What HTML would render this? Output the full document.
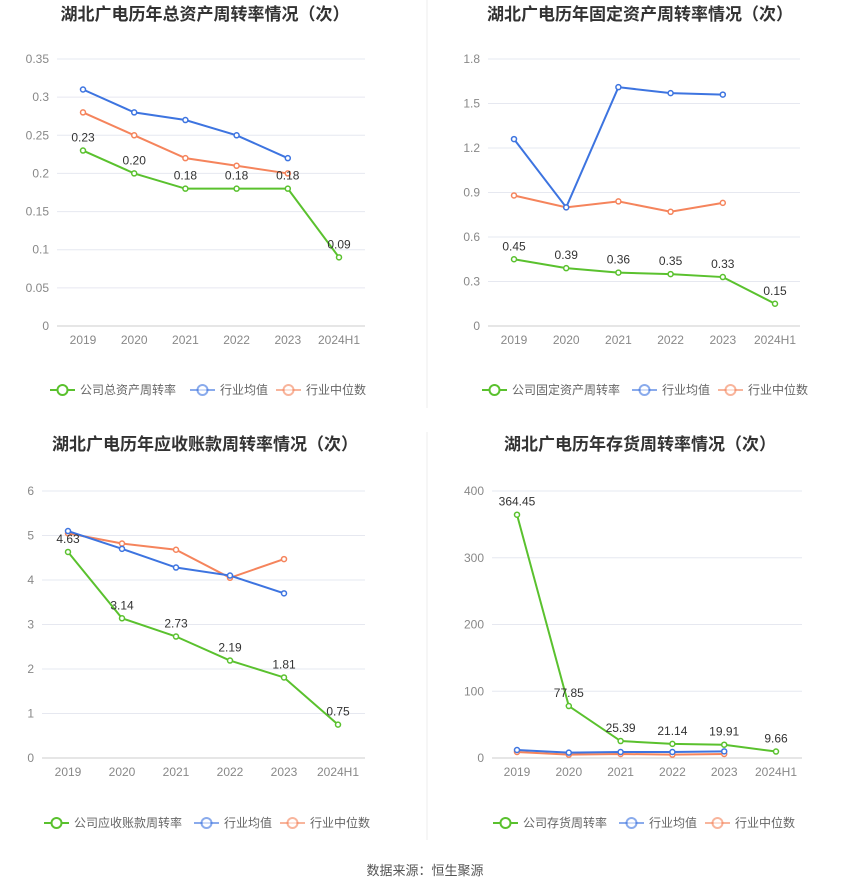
<!DOCTYPE html>
<html><head><meta charset="utf-8"><style>
body{margin:0;background:#fff;}
svg{display:block;font-family:"Liberation Sans","Noto Sans CJK SC",sans-serif;}
</style></head><body>
<svg id="s" width="850" height="891" viewBox="0 0 850 891" xmlns="http://www.w3.org/2000/svg">
<line x1="427" y1="0" x2="427" y2="408" stroke="#eee"/>
<line x1="427" y1="432" x2="427" y2="840" stroke="#eee"/>
<text x="425" y="875" font-size="13" fill="#555" text-anchor="middle">数据来源：恒生聚源</text>
</svg>
<script>
const cats = ["2019","2020","2021","2022","2023","2024H1"];
const c1Company = [0.23,0.20,0.18,0.18,0.18,0.09];
const c1Avg = [0.31,0.28,0.27,0.25,0.22];
const c1Med = [0.28,0.25,0.22,0.21,0.20];
const c1Ticks = [0,0.05,0.1,0.15,0.2,0.25,0.3,0.35];
const c2Company = [0.45,0.39,0.36,0.35,0.33,0.15];
const c2Avg = [1.26,0.80,1.61,1.57,1.56];
const c2Med = [0.88,0.80,0.84,0.77,0.83];
const c2Ticks = [0,0.3,0.6,0.9,1.2,1.5,1.8];
const c3Company = [4.63,3.14,2.73,2.19,1.81,0.75];
const c3Avg = [5.1,4.7,4.28,4.1,3.7];
const c3Med = [5.05,4.82,4.68,4.05,4.47];
const c3Ticks = [0,1,2,3,4,5,6];
const c4Company = [364.45,77.85,25.39,21.14,19.91,9.66];
const c4Avg = [12,8,9,9,10];
const c4Med = [9,5,6,5,6];
const c4Ticks = [0,100,200,300,400];

const NS="http://www.w3.org/2000/svg";
const svg=document.getElementById('s');
const G="#5ac12e",B="#3d74e0",O="#f5845c";
function mk(tag,attrs,parent){const e=document.createElementNS(NS,tag);for(const k in attrs)e.setAttribute(k,attrs[k]);(parent||svg).appendChild(e);return e;}
function chart(o){
  const g=mk('g',{});
  
  
  const t=mk('text',{x:o.tx,y:o.ty,'font-size':17,'font-weight':'bold',fill:'#333','text-anchor':'middle'},g);
  t.textContent=o.title;
  
  
  const max=o.ticks[o.ticks.length-1];
  const y=v=>o.y0-(v/max)*(o.y0-o.y1);
  const x=i=>o.x0+i*o.step;
  o.ticks.forEach(tv=>{
    const l=mk('line',{x1:o.left,x2:o.right,y1:y(tv),y2:y(tv),stroke:tv===0?'#ccc':'#e6e8f0'},g);
    
    
    const tt=mk('text',{x:o.left-8,y:y(tv)+4,'font-size':12,fill:'#888','text-anchor':'end'},g);
    tt.textContent=String(tv);
    
    
  });
  cats.forEach((c,i)=>{
    const tt=mk('text',{x:x(i),y:o.y0+18,'font-size':12,fill:'#888','text-anchor':'middle'},g);
    tt.textContent=c;
    
    
  });
  function series(d,col,nm,labels){
    const p=mk('polyline',{points:d.map((v,i)=>x(i)+','+y(v)).join(' '),fill:'none',stroke:col,'stroke-width':2},g);
    
    
    d.forEach((v,i)=>{
      const c=mk('circle',{cx:x(i),cy:y(v),r:2.5,fill:'#fff',stroke:col,'stroke-width':1.5},g);
      
      
      if(labels){
        const lt=mk('text',{x:x(i),y:y(v)-9,'font-size':12,fill:'#333','text-anchor':'middle'},g);
        lt.textContent=v.toFixed(2);
        
        
      }
    });
  }
  series(o.med,O,'industry-median');
  series(o.avg,B,'industry-average');
  series(o.comp,G,'company',true);
  const items=[[o.compName,G,0],['行业均值',B,o.lg[1]],['行业中位数',O,o.lg[2]]];
  items.forEach(([n,col,dx])=>{
    const lx=o.lx+dx;
    const e=mk('g',{},g);
    
    
    mk('line',{x1:lx,x2:lx+25,y1:o.ly,y2:o.ly,stroke:col,'stroke-width':2,opacity:col===G?1:0.6},e);
    mk('circle',{cx:lx+12.5,cy:o.ly,r:5,fill:'#fff',stroke:col,'stroke-width':2,opacity:col===G?1:0.6},e);
    const tt=mk('text',{x:lx+30,y:o.ly+4,'font-size':12,fill:'#666'},e);
    tt.textContent=n;
  });
}
chart({name:'total-asset-turnover-chart',title:'湖北广电历年总资产周转率情况（次）',tx:205,ty:20,left:57,right:365,y0:326,y1:59,x0:83,step:51.2,ticks:c1Ticks,comp:c1Company,avg:c1Avg,med:c1Med,compName:'公司总资产周转率',lx:50,ly:390,lg:[0,140,226]});
chart({name:'fixed-asset-turnover-chart',title:'湖北广电历年固定资产周转率情况（次）',tx:640,ty:20,left:488,right:800,y0:326,y1:59,x0:514,step:52.2,ticks:c2Ticks,comp:c2Company,avg:c2Avg,med:c2Med,compName:'公司固定资产周转率',lx:482,ly:390,lg:[0,150,236]});
chart({name:'receivables-turnover-chart',title:'湖北广电历年应收账款周转率情况（次）',tx:205,ty:450,left:42,right:365,y0:758,y1:491,x0:68,step:54,ticks:c3Ticks,comp:c3Company,avg:c3Avg,med:c3Med,compName:'公司应收账款周转率',lx:44,ly:823,lg:[0,150,236]});
chart({name:'inventory-turnover-chart',title:'湖北广电历年存货周转率情况（次）',tx:640,ty:450,left:492,right:802,y0:758,y1:491,x0:517,step:51.8,ticks:c4Ticks,comp:c4Company,avg:c4Avg,med:c4Med,compName:'公司存货周转率',lx:493,ly:823,lg:[0,126,212]});
</script>
</body></html>
